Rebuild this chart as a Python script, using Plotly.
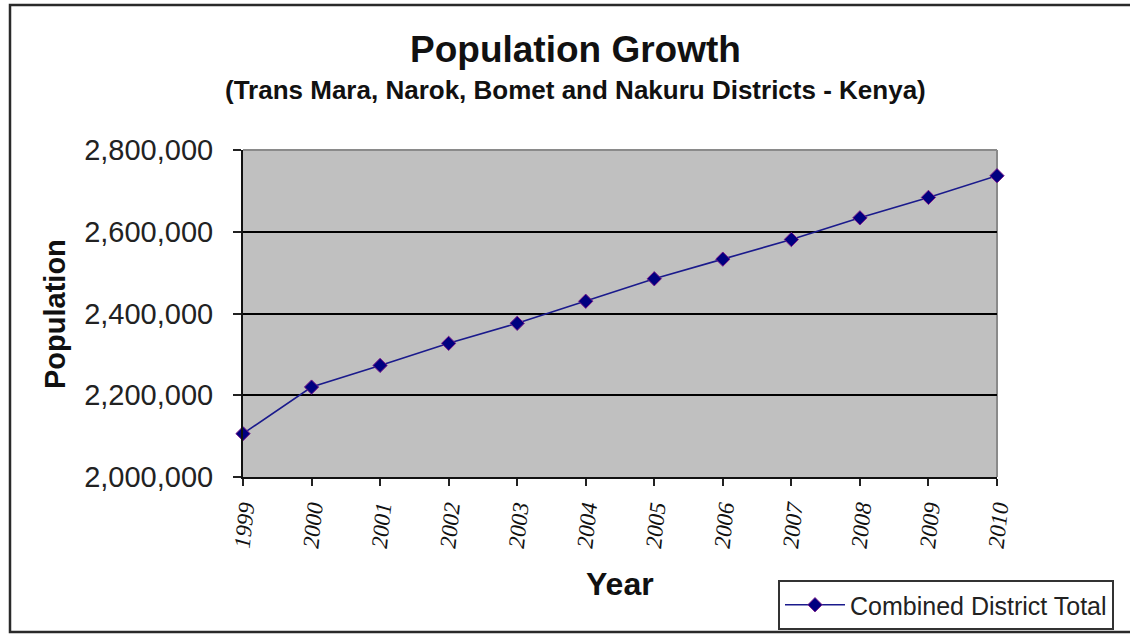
import plotly.graph_objects as go

# Population figures, combined Trans Mara, Narok, Bomet and Nakuru districts
years = [1999, 2000, 2001, 2002, 2003, 2004, 2005, 2006, 2007, 2008, 2009, 2010]
population = [2106000, 2220000, 2273000, 2327000, 2376000, 2430000,
              2485000, 2533000, 2581000, 2634000, 2684000, 2737000]
y_ticks = [2000000, 2200000, 2400000, 2600000, 2800000]
y_tick_labels = ["2,000,000", "2,200,000", "2,400,000", "2,600,000", "2,800,000"]

W, H = 1130, 634
L, R, T, B = 243, 133, 150, 157
PW, PH = W - L - R, H - T - B


def px_x(p):
    return (p - L) / PW


def px_y(p):
    return (H - B - p) / PH


SANS = "Liberation Sans, Arial, sans-serif"
SERIF = "Liberation Serif, Times New Roman, serif"

fig = go.Figure()
fig.add_trace(go.Scatter(
    x=years, y=population, mode="lines+markers",
    name="Combined District Total",
    line=dict(color="#1a1a8c", width=1.6),
    marker=dict(symbol="diamond", size=11, color="#000080",
                line=dict(color="#7a1a8a", width=1)),
    cliponaxis=False,
))

fig.update_layout(
    width=W, height=H,
    margin=dict(l=L, r=R, t=T, b=B, pad=0, autoexpand=False),
    paper_bgcolor="white", plot_bgcolor="#c0c0c0",
    showlegend=True,
    legend=dict(
        xref="container", yref="container",
        x=778 / W, y=1 - 580 / H, xanchor="left", yanchor="top",
        bgcolor="white", bordercolor="#333333", borderwidth=2,
        font=dict(family=SANS, size=25, color="#222"),
        itemwidth=60,
    ),
    xaxis=dict(
        range=[1999, 2010], tickmode="array", tickvals=years,
        ticktext=[str(y) for y in years],
        tickangle=-84, ticks="outside", ticklen=7, tickwidth=1.5,
        tickcolor="#222",
        tickfont=dict(family=SERIF, size=23, color="#111", style="italic"),
        showgrid=False, zeroline=False,
        showline=True, linecolor="#111", linewidth=2,
    ),
    yaxis=dict(
        range=[2000000, 2800000], tickmode="array", tickvals=y_ticks,
        ticktext=y_tick_labels,
        ticks="outside", ticklen=8, tickwidth=1.5, tickcolor="#222",
        ticklabelstandoff=14,
        tickfont=dict(family=SANS, size=29, color="#222"),
        showgrid=True, gridcolor="#000000", gridwidth=1.5,
        zeroline=False,
        showline=True, linecolor="#111", linewidth=2,
    ),
)

# outer chart frame and the grey top/right edges of the plot area
fig.add_shape(type="rect", xref="paper", yref="paper",
              x0=px_x(10), x1=px_x(1145), y0=px_y(632), y1=px_y(5),
              line=dict(color="#2a2a2a", width=2.5), layer="below")
fig.add_shape(type="line", xref="paper", yref="paper",
              x0=0, x1=1, y0=1, y1=1,
              line=dict(color="#8a8a8a", width=2), layer="above")
fig.add_shape(type="line", xref="paper", yref="paper",
              x0=1, x1=1, y0=0, y1=1,
              line=dict(color="#8a8a8a", width=2), layer="below")

fig.add_annotation(text="<b>Population Growth</b>", xref="paper", yref="paper",
                   x=px_x(575), y=px_y(50), xanchor="center", yanchor="middle",
                   showarrow=False, font=dict(family=SANS, size=37, color="#111"))
fig.add_annotation(text="<b>(Trans Mara, Narok, Bomet and Nakuru Districts - Kenya)</b>",
                   xref="paper", yref="paper",
                   x=px_x(575), y=px_y(90), xanchor="center", yanchor="middle",
                   showarrow=False, font=dict(family=SANS, size=26, color="#111"))
fig.add_annotation(text="<b>Population</b>", xref="paper", yref="paper",
                   x=px_x(55), y=px_y(314), xanchor="center", yanchor="middle",
                   textangle=-90, showarrow=False,
                   font=dict(family=SANS, size=29, color="#111"))
fig.add_annotation(text="<b>Year</b>", xref="paper", yref="paper",
                   x=px_x(620), y=px_y(584), xanchor="center", yanchor="middle",
                   showarrow=False, font=dict(family=SANS, size=32, color="#111"))

fig.write_html("out.html")
